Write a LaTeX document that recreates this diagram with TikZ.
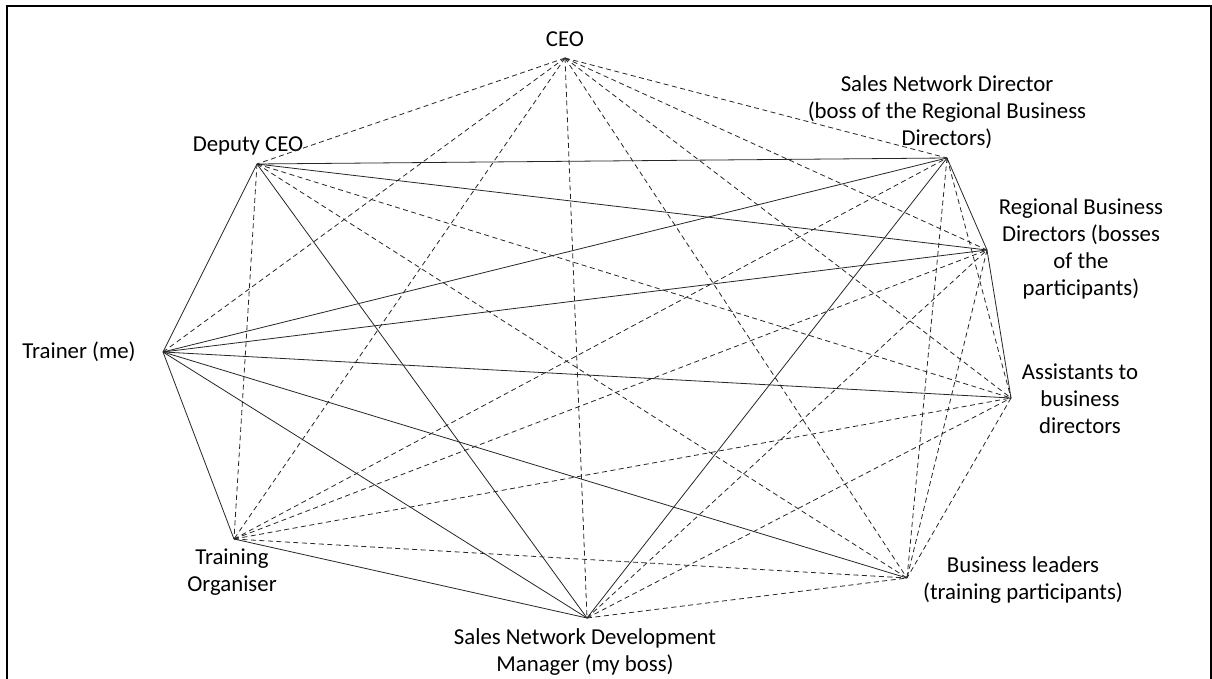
\documentclass[tikz,border=0pt]{standalone}
\usepackage{fontspec}
\setmainfont{Carlito}
\begin{document}
\begin{tikzpicture}[x=1pt,y=-1pt,
  link/.style={line width=0.8pt,draw=black!85},
  weak/.style={link,dash pattern=on 5pt off 3.5pt},
  role/.style={align=center,inner sep=0pt,font=\fontsize{22.8}{27}\selectfont}]
\useasboundingbox (0,0) rectangle (1212,679);
% frame
\draw[line width=2.5pt] (7,679) -- (7,6) -- (1211,6) -- (1211,679);

% meeting points of the stakeholders
\coordinate (C) at (565,58);
\coordinate (D) at (257,164);
\coordinate (S) at (947,158);
\coordinate (R) at (987,250);
\coordinate (A) at (1011,398);
\coordinate (B) at (907,578);
\coordinate (M) at (587,618);
\coordinate (O) at (234,539);
\coordinate (T) at (163,352);

% labels
\node[role] (lC) at (565,39) {CEO};
\node[role] (lD) at (248,146) {Deputy CEO};
\node[role] (lS) at (947,112) {Sales Network Director\\(boss of the Regional Business\\Directors)};
\node[role] (lR) at (1081,249) {Regional Business\\Directors (bosses\\of the\\participants)};
\node[role] (lA) at (1080,399) {Assistants to\\business\\directors};
\node[role] (lT) at (79,352) {Trainer (me)};
\node[role] (lO) at (232,572) {Training\\Organiser};
\node[role] (lM) at (585,652) {Sales Network Development\\Manager (my boss)};
\node[role] (lB) at (1023,580) {Business leaders\\(training participants)};

% direct relations
\foreach \a/\b in {D/S,D/R,D/M,D/T,T/S,T/R,T/A,T/B,T/M,T/O,O/M,M/S,S/R,R/A}
  \draw[link] (\a) -- (\b);

% indirect relations
\foreach \a/\b in {C/D,C/S,C/R,C/A,C/B,C/M,C/O,C/T,
                   D/A,D/B,D/O,
                   O/S,O/R,O/A,O/B,
                   M/R,M/A,M/B,
                   S/A,S/B,R/B,A/B}
  \draw[weak] (\a) -- (\b);
\end{tikzpicture}
\end{document}
